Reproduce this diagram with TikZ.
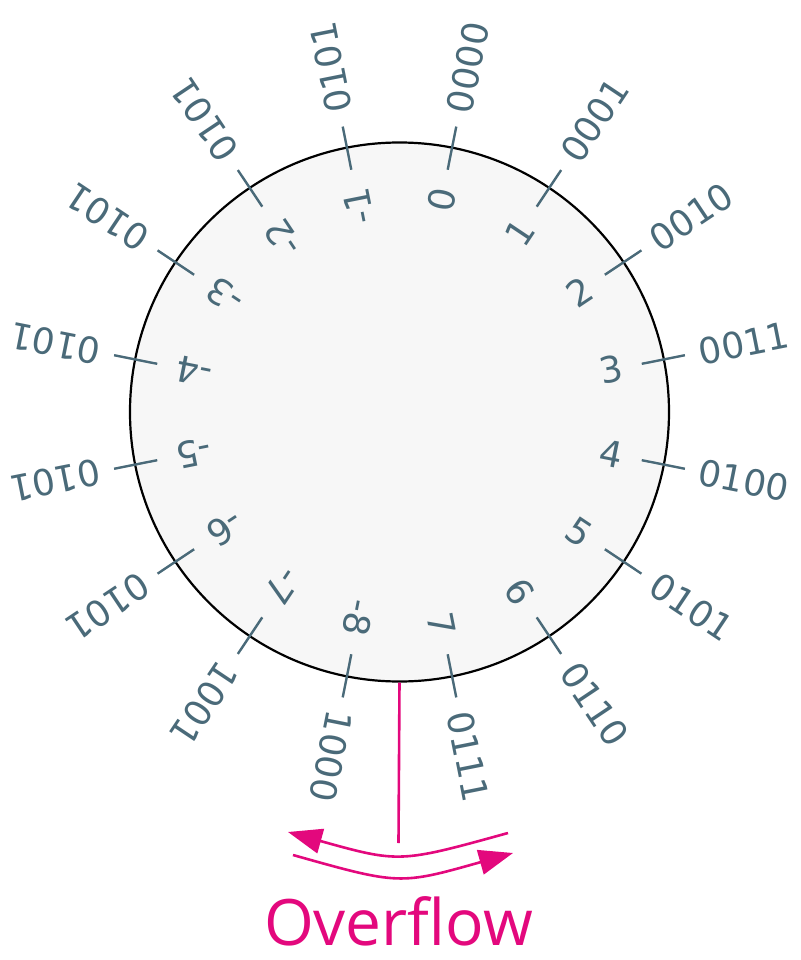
\documentclass[tikz,border=0pt]{standalone}
\usepackage{fontspec}
\usepackage{xcolor}
\usepackage{tikz}
\usetikzlibrary{arrows.meta}
\newfontfamily\digitfont{DejaVu Sans}
\newfontfamily\ovfont{Open Sans}
\definecolor{slate}{HTML}{4A6A79}
\definecolor{wheelfill}{HTML}{F7F7F7}
\definecolor{magenta}{HTML}{E3087D}
\tikzset{
  wheel/.style={circle, draw=black, line width=1.1pt, fill=wheelfill, minimum size=269.5pt, inner sep=0pt},
  tickmark/.style={draw=slate, line width=1.2pt},
  decLabel/.style={text=slate, font=\digitfont\fontsize{18}{18}\selectfont, inner sep=0pt, anchor=east},
  binLabel/.style={text=slate, font=\digitfont\fontsize{18}{18}\selectfont, inner sep=0pt, anchor=west},
  ovLine/.style={draw=magenta, line width=1.3pt},
  ovArrow/.style={draw=magenta, line width=1.3pt, -{Triangle[length=17pt,width=12.5pt]}},
  ovText/.style={text=magenta, font=\ovfont\fontsize{32}{32}\selectfont}
}

\begin{document}
\begin{tikzpicture}[x=0.5pt, y=0.5pt]
  \useasboundingbox (-399.5,-548) rectangle (400.5,412);
  \node[wheel] (wheel) at (0,0) {};

  \foreach \a/\d/\b [count=\i] in {78.75/0/0000, 56.25/1/0001, 33.75/2/0010, 11.25/3/0011,
      -11.25/4/0100, -33.75/5/0101, -56.25/6/0110, -78.75/7/0111,
      -101.25/-8/1000, -123.75/-7/1001, -146.25/-6/0101, -168.75/-5/0101,
      168.75/-4/0101, 146.25/-3/0101, 123.75/-2/0101, 101.25/-1/0101}{
    \draw[tickmark] (\a:247) -- (\a:291);
    \node[decLabel, rotate=\a] (dec\i) at (\a:228) {\d};
    \node[binLabel, rotate=\a] (bin\i) at (\a:305) {\b};
  }

  % overflow marker
  \coordinate (ovEnd) at (-1,-431);
  \coordinate (upR) at (108.5,-421);
  \coordinate (upL) at (-111.5,-420);
  \coordinate (loL) at (-106.5,-443);
  \coordinate (loR) at (113.5,-441);
  \draw[ovLine] (wheel.south) -- (ovEnd);
  \draw[ovArrow] (upR) .. controls (0,-451) .. (upL);
  \draw[ovArrow] (loL) .. controls (0,-473) .. (loR);
  \node[ovText, anchor=base] (ovLabel) at (-1,-533) {Overflow};
\end{tikzpicture}
\end{document}
